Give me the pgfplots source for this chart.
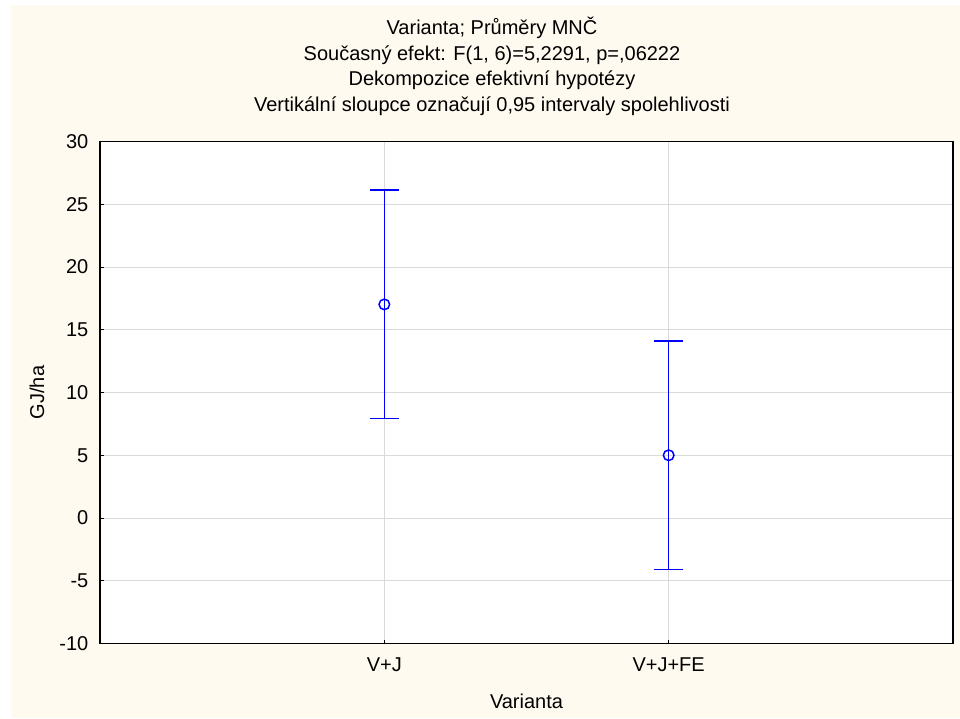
\documentclass[border=0pt]{standalone}
\usepackage{fontspec}
\setmainfont{Liberation Sans}
\usepackage{pgfplots}
\pgfplotsset{compat=1.18}
\definecolor{cream}{RGB}{255,250,239}
\definecolor{gridgray}{RGB}{218,218,218}
\newcommand{\lab}{\fontsize{20}{24}\selectfont}
\begin{document}
\begin{tikzpicture}
\useasboundingbox (0pt,0pt) rectangle (960pt,718pt);
\fill[white] (0pt,0pt) rectangle (960pt,718pt);
\fill[cream] (11pt,0pt) rectangle (960pt,713pt);
\begin{axis}[
  at={(100pt,74.5pt)}, anchor=south west,
  scale only axis, width=853pt, height=502pt,
  xmin=0, xmax=3, ymin=-10, ymax=30,
  xtick={1,2}, xticklabels={V+J,V+J+FE},
  ytick={-10,-5,0,5,10,15,20,25,30},
  yticklabels={-10,-5,0,5,10,15,20,25,30},
  xtick pos=bottom, ytick pos=left,
  tick align=inside, major tick length=4pt,
  tick style={black, line width=0.8pt},
  grid=major, grid style={gridgray, line width=0.8pt},
  axis line style={black, line width=1.6pt},
  axis background/.style={fill=white},
  ticklabel style={font=\lab, inner sep=0pt},
  yticklabel style={anchor=east, xshift=-11.5pt},
  xticklabel style={anchor=north, yshift=-14pt},
  xlabel={Varianta}, ylabel={GJ/ha},
  label style={font=\lab, inner sep=0pt},
  xlabel style={at={(axis description cs:0.5,0)}, anchor=north, yshift=-50pt},
  ylabel style={at={(axis description cs:0,0.5)}, anchor=center, yshift=63pt},
  clip=false,
]
% least-squares means with 0.95 confidence intervals
\addplot[blue, only marks, mark=o,
  mark options={blue, fill=white, line width=1.5pt, mark size=5.3pt},
  error bars/.cd, y dir=both, y explicit,
  error mark options={rotate=90, blue, line width=1.5pt, mark size=14.5pt},
  error bar style={blue, line width=1.5pt}]
  coordinates {
    (1,17.02) +- (0,9.1)
    (2,5.00) +- (0,9.1)
  };
\end{axis}
\node[anchor=base, font=\lab] at (492pt,683pt) {Varianta; Průměry MNČ};
\node[anchor=base, font=\lab] at (492pt,657.5pt) {Současný efekt: F(1, 6)=5,2291, p=,06222};
\node[anchor=base, font=\lab] at (492pt,632pt) {Dekompozice efektivní hypotézy};
\node[anchor=base, font=\lab] at (492pt,606.5pt) {Vertikální sloupce označují 0,95 intervaly spolehlivosti};
\end{tikzpicture}
\end{document}
